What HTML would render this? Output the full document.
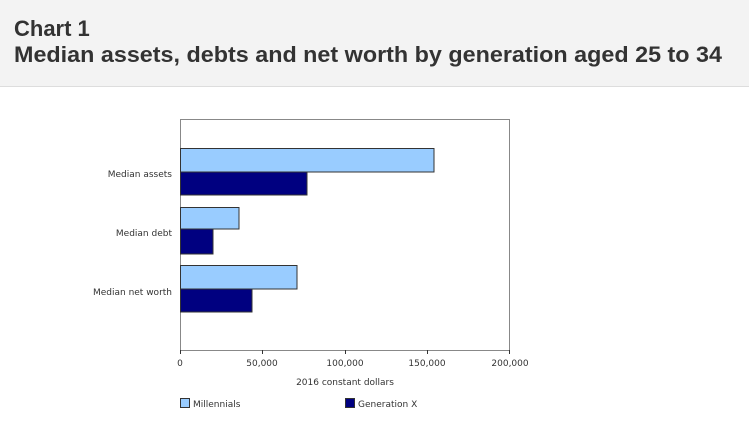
<!DOCTYPE html>
<html><head><meta charset="utf-8"><style>
body{margin:0;background:#fff;}
svg{display:block;font-family:"Liberation Sans",sans-serif;}
</style></head><body>
<svg width="749" height="422" viewBox="0 0 749 422" xmlns="http://www.w3.org/2000/svg">
<rect x="0" y="0" width="749" height="86" fill="#f3f3f3"/>
<rect x="0" y="86" width="749" height="1" fill="#dddddd"/>
<text x="14" y="36" font-size="22" font-weight="bold" fill="#333">Chart 1</text>
<text x="14" y="62" font-size="22" font-weight="bold" fill="#333" textLength="708" lengthAdjust="spacingAndGlyphs">Median assets, debts and net worth by generation aged 25 to 34</text>
<rect x="180.5" y="119.5" width="329" height="231" fill="none" stroke="#888" stroke-width="1"/>
<g stroke="#333" stroke-width="1">
<rect x="180.5" y="148.5" width="253.5" height="23.5" fill="#99ccff"/>
<rect x="180.5" y="172" width="126.5" height="23" fill="#000080"/>
<rect x="180.5" y="207.5" width="58.5" height="21.5" fill="#99ccff"/>
<rect x="180.5" y="229" width="32.5" height="25" fill="#000080"/>
<rect x="180.5" y="265.5" width="116.5" height="23.5" fill="#99ccff"/>
<rect x="180.5" y="289" width="71.5" height="23" fill="#000080"/>
</g>
<g stroke="#333"><line x1="180.5" y1="350" x2="180.5" y2="354"/><line x1="262.5" y1="350" x2="262.5" y2="354"/><line x1="345.5" y1="350" x2="345.5" y2="354"/><line x1="427.5" y1="350" x2="427.5" y2="354"/><line x1="509.5" y1="350" x2="509.5" y2="354"/></g>
<g font-family="'DejaVu Sans',sans-serif" font-size="9" fill="#333">
<text x="172" y="177" text-anchor="end">Median assets</text>
<text x="172" y="236" text-anchor="end">Median debt</text>
<text x="172" y="295" text-anchor="end">Median net worth</text>
<text x="180" y="366" text-anchor="middle">0</text>
<text x="262" y="366" text-anchor="middle">50,000</text>
<text x="345" y="366" text-anchor="middle">100,000</text>
<text x="427" y="366" text-anchor="middle">150,000</text>
<text x="510" y="366" text-anchor="middle">200,000</text>
<text x="345" y="385" text-anchor="middle">2016 constant dollars</text>
<rect x="180.5" y="398.5" width="9" height="9" fill="#99ccff" stroke="#333"/>
<text x="193" y="407">Millennials</text>
<rect x="345.5" y="398.5" width="9" height="9" fill="#000080" stroke="#333"/>
<text x="358" y="407">Generation X</text>
</g>
</svg>
</body></html>
